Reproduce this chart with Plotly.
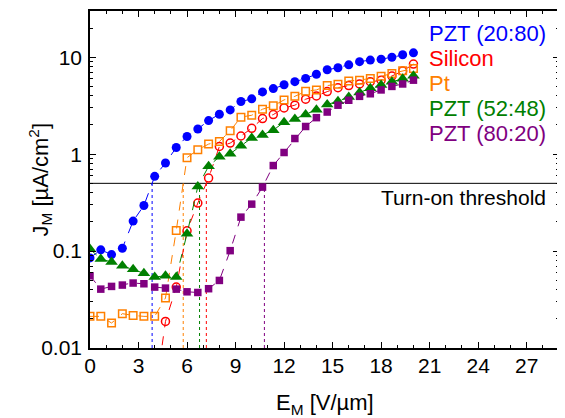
import numpy as np
import plotly.graph_objects as go

# Electric field values (V/um)
E_field = [0, 0.667, 1.333, 2, 2.667, 3.333, 4, 4.667, 5.333, 6, 6.667, 7.333, 8, 8.667,
           9.333, 10, 10.667, 11.333, 12, 12.667, 13.333, 14, 14.667, 15.333, 16, 16.667,
           17.333, 18, 18.667, 19.333, 20]

pzt_20_80 = [0.085, 0.103, 0.092, 0.107, 0.204, 0.295, 0.59, 0.81, 1.17, 1.52, 1.82, 2.22, 2.58,
             2.86, 3.49, 3.72, 4.39, 4.75, 5.2, 5.6, 6.05, 6.68, 7.42, 7.8, 8.35, 9.0, 9.35,
             9.55, 10.0, 10.6, 11.1]
silicon = [None, None, None, None, None, None, 0.003, 0.0188, 0.0425, 0.162, 0.313, 0.566, 1.2,
           1.3, 1.54, 1.85, 2.33, 2.56, 3.0, 3.2, 3.69, 3.99, 4.42, 4.85, 5.1, 5.3, 5.6, 5.8,
           6.4, 7.2, 8.5]
pt = [0.0212, 0.0212, 0.0181, 0.0226, 0.0217, 0.0212, 0.0212, 0.0328, 0.163, 0.92, 1.11, 1.27,
      1.35, 1.74, 2.41, 2.52, 2.91, 3.15, 3.63, 3.95, 4.45, 4.6, 5.1, 5.27, 5.7, 5.8, 6.05,
      6.35, 6.8, 7.25, 7.65]
pzt_52_48 = [0.105, 0.083, 0.077, 0.0705, 0.065, 0.059, 0.054, 0.0556, 0.054, 0.151, 0.463, 0.75,
             0.94, 1.01, 1.22, 1.47, 1.58, 1.77, 2.14, 2.31, 2.57, 2.88, 3.25, 3.52, 3.9, 4.32,
             4.79, 5.18, 5.6, 6.0, 6.45]
pzt_80_20 = [0.0556, 0.0405, 0.0432, 0.0446, 0.0468, 0.046, 0.0425, 0.0415, 0.0405, 0.038, 0.0374,
             0.0409, 0.0498, 0.101, 0.224, 0.305, 0.457, 0.763, 1.04, 1.45, 1.93, 2.38, 2.72,
             3.2, 3.6, 3.95, 4.2, 4.6, 5.0, 5.3, 5.8]

series_names = ["PZT (20:80)", "Silicon", "Pt", "PZT (52:48)", "PZT (80:20)"]
threshold = 0.5

x_ticks = [0, 3, 6, 9, 12, 15, 18, 21, 24, 27]
y_ticks = [0.01, 0.1, 1, 10]
y_tick_text = ["0.01", "0.1", "1", "10"]

FONT = "Liberation Sans, Arial, sans-serif"

styles = [
    dict(color="#0000FF", symbol="circle", size=9, open=False),
    dict(color="#FF0000", symbol="circle-open", size=8, open=True),
    dict(color="#FF8000", symbol="square-open", size=7.5, open=True),
    dict(color="#008000", symbol="triangle-up", size=11, open=False),
    dict(color="#800080", symbol="square", size=7.5, open=False),
]
all_series = [pzt_20_80, silicon, pt, pzt_52_48, pzt_80_20]

# target geometry in window pixels; page body has an 8px default margin
OFF = 8
FIG_W, FIG_H = 565 - OFF, 418 - OFF
L, R, T, B = 90, 559, 11, 348          # plot area in window pixels
W, H = R - L, B - T


def crossing(xs, ys, thr):
    """x where series first crosses thr (log interpolation)."""
    lt = np.log10(thr)
    for i in range(1, len(xs)):
        a, b = ys[i - 1], ys[i]
        if a is None or b is None:
            continue
        if a < thr <= b:
            la, lb = np.log10(a), np.log10(b)
            return xs[i - 1] + (lt - la) / (lb - la) * (xs[i] - xs[i - 1])
    return None


fig = go.Figure()

# threshold line
fig.add_trace(go.Scatter(x=[0, 29], y=[threshold, threshold], mode="lines",
                         line=dict(color="black", width=1), hoverinfo="skip"))

# vertical dotted lines at turn-on
for ys, st in zip(all_series, styles):
    xc = crossing(E_field, ys, threshold)
    fig.add_trace(go.Scatter(x=[xc, xc], y=[0.01, threshold], mode="lines",
                             line=dict(color=st["color"], width=1, dash="dot"),
                             hoverinfo="skip"))

for name, ys, st in zip(series_names, all_series, styles):
    fig.add_trace(go.Scatter(
        x=E_field, y=ys, mode="lines+markers", name=name,
        line=dict(color=st["color"], width=1, dash="dash"),
        marker=dict(symbol=st["symbol"], size=st["size"], color=st["color"],
                    line=dict(color=st["color"], width=1.5 if st["open"] else 0)),
        connectgaps=False,
    ))

# legend texts
legend_y = [33, 58, 83, 108, 133]
for name, st, yy in zip(series_names, styles, legend_y):
    fig.add_annotation(text=name, xref="paper", yref="paper",
                       x=(427 - L) / W, y=1 - (yy - T) / H,
                       xanchor="left", yanchor="middle", showarrow=False,
                       font=dict(family=FONT, size=22, color=st["color"]))

fig.add_annotation(text="Turn-on threshold", xref="paper", yref="paper",
                   x=(548 - L) / W, y=1 - (198 - T) / H,
                   xanchor="right", yanchor="middle", showarrow=False,
                   font=dict(family=FONT, size=21, color="black"))

# axis titles
fig.add_annotation(text="E<sub>M</sub> [V/µm]", xref="paper", yref="paper",
                   x=(325 - L) / W, y=1 - (404 - T) / H, xanchor="center", yanchor="middle",
                   showarrow=False, font=dict(family=FONT, size=22, color="black"))
fig.add_annotation(text="J<sub>M</sub> [µA/cm<sup>2</sup>]", xref="paper", yref="paper",
                   x=(40 - L) / W, y=0.5, xanchor="center", yanchor="middle", textangle=-90,
                   showarrow=False, font=dict(family=FONT, size=22, color="black"))

axis_common = dict(showline=True, linecolor="black", linewidth=1.5, mirror="allticks",
                   ticks="inside", tickcolor="black", showgrid=False, zeroline=False,
                   automargin=False,
                   tickfont=dict(family=FONT, size=21, color="black"))

fig.update_xaxes(range=[0, 29], tickvals=x_ticks, ticklen=6, tickwidth=1.2,
                 ticklabelstandoff=-2,
                 minor=dict(dtick=1, tick0=0, ticks="inside", ticklen=3, tickcolor="black",
                            showgrid=False),
                 **axis_common)

minor_y = [m * 10.0 ** k for k in range(-2, 2) for m in range(2, 10)]
fig.update_yaxes(type="log", range=[-2, np.log10(30)], tickvals=y_ticks, ticktext=y_tick_text,
                 ticklen=6, tickwidth=1.2, ticklabelstandoff=2,
                 minor=dict(tickvals=minor_y, ticks="inside", ticklen=3, tickcolor="black",
                            showgrid=False),
                 **axis_common)

fig.update_layout(width=FIG_W, height=FIG_H, showlegend=False,
                  plot_bgcolor="white", paper_bgcolor="white",
                  margin=dict(l=L - OFF, r=565 - R, t=T - OFF, b=418 - B))

fig.write_html("out.html")
